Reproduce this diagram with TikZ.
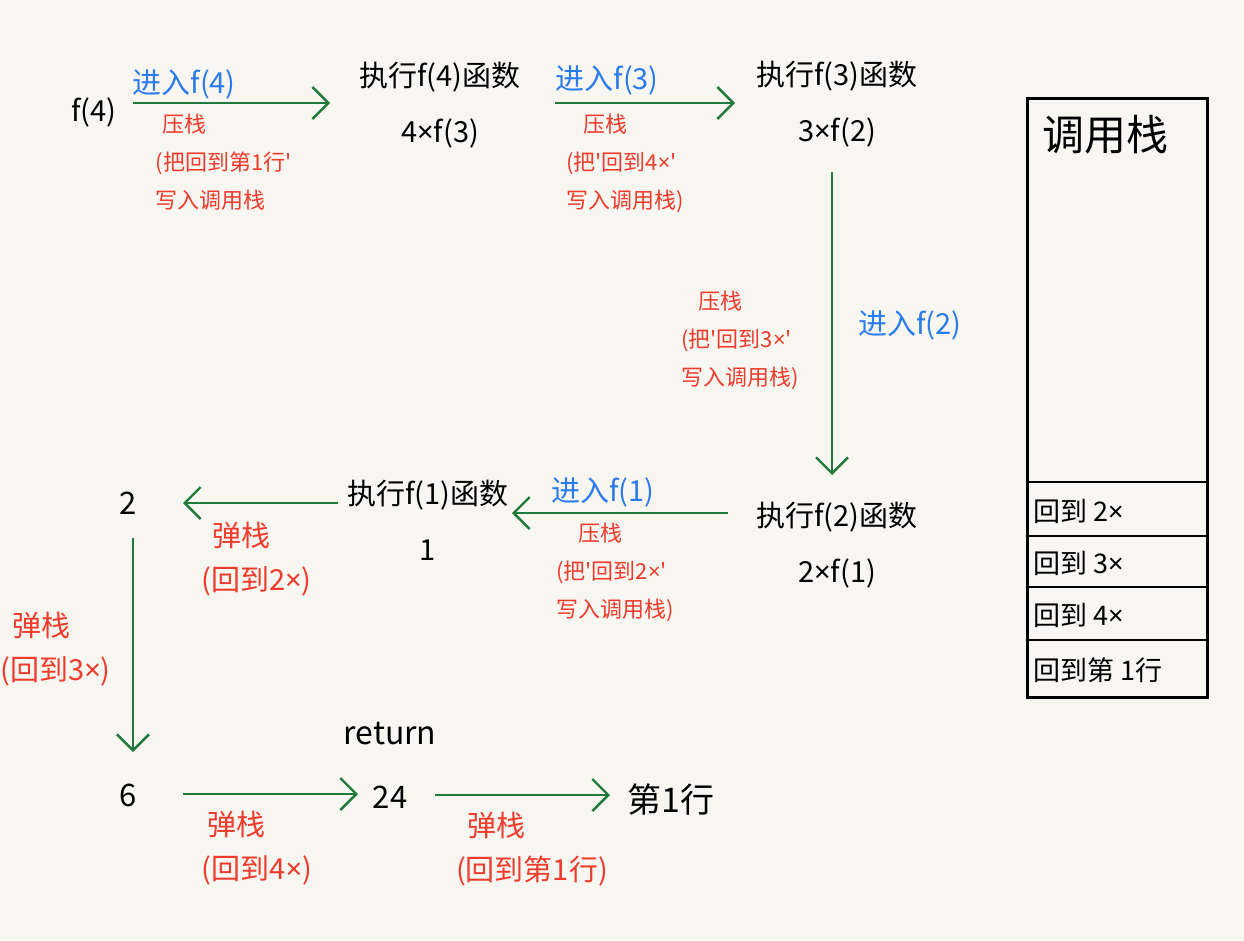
\documentclass[tikz,border=0pt]{standalone}
\usepackage{fontspec}
\newfontfamily\handcjk{Noto Sans CJK SC}
\newfontfamily\handlatin{Noto Sans}
\newcommand{\tms}{{\handlatin ×}}
\usepackage{xcolor}
\usetikzlibrary{positioning,arrows.meta}
\definecolor{paperbg}{HTML}{F8F6F1}
\definecolor{flowgreen}{HTML}{1F7A3C}
\definecolor{enterblue}{HTML}{2A7BEB}
\definecolor{notered}{HTML}{EE3B2B}
\tikzset{
  callnode/.style={inner sep=0pt, align=center, font=\handcjk\fontsize{29}{56}\selectfont},
  enternote/.style={inner sep=0pt, text=enterblue, font=\handcjk\fontsize{29}{30}\selectfont},
  pushnote/.style={inner sep=0pt, align=left, text=notered, font=\handcjk\fontsize{22}{38}\selectfont},
  popnote/.style={inner sep=0pt, align=left, text=notered, font=\handcjk\fontsize{29}{44}\selectfont},
  flowarrow/.style={-{Straight Barb[length=16pt,width=32pt]}, draw=flowgreen, line width=2.4pt},
  stacktitle/.style={inner sep=0pt, font=\handcjk\fontsize{42}{44}\selectfont},
  stackcell/.style={inner sep=0pt, anchor=west, font=\handcjk\fontsize{27}{28}\selectfont},
  stackline/.style={draw, line width=2.6pt},
}

\begin{document}
\begin{tikzpicture}[x=1pt, y=-1pt]
  \fill[paperbg] (0,0) rectangle (1244,940);
  \useasboundingbox (0,0) rectangle (1244,940);

  % Call nodes
  \node[callnode] (f4) at (94,112) {f(4)};
  \node[callnode] (run4) at (440,105) {执行f(4)函数\\4\tms f(3)};
  \node[callnode] (run3) at (837,104) {执行f(3)函数\\3\tms f(2)};
  \node[callnode] (run2) at (837,545) {执行f(2)函数\\2\tms f(1)};
  \node[callnode] (run1) at (428,520) {执行f(1)函数\\1};

  % Return values
  \node[callnode, font=\handcjk\fontsize{31}{32}\selectfont] (res2) at (128,503) {2};
  \node[callnode, font=\handcjk\fontsize{31}{32}\selectfont] (res6) at (128,795) {6};
  \node[callnode, font=\handcjk\fontsize{31}{32}\selectfont] (res24) at (390,797) {24};
  \node[callnode, font=\handcjk\fontsize{32}{32}\selectfont, above=40pt of res24] (ret) {return};
  \node[callnode, font=\handcjk\fontsize{34}{36}\selectfont] (line1) at (671,800) {第1行};

  % Arrow ends
  \coordinate (in4s) at (133,103);  \coordinate (in4e) at (330,103);
  \coordinate (in3s) at (555,103);  \coordinate (in3e) at (735,103);
  \coordinate (in2s) at (832,172);  \coordinate (in2e) at (832,475);
  \coordinate (in1s) at (728,513);  \coordinate (in1e) at (512,513);
  \coordinate (out1s) at (338,503); \coordinate (out1e) at (183,503);
  \coordinate (out2s) at (133,538); \coordinate (out2e) at (133,752);
  \coordinate (out3s) at (183,794); \coordinate (out3e) at (358,794);
  \coordinate (out4s) at (435,795); \coordinate (out4e) at (610,795);

  % Entering calls (push)
  \draw[flowarrow] (in4s) -- node[enternote, above=3pt, pos=0.26] {进入f(4)}
    node[pushnote, anchor=north west, yshift=-10pt, pos=0.11] {\hspace*{0.3em}压栈\\(把回到第1行'\\写入调用栈} (in4e);
  \draw[flowarrow] (in3s) -- node[enternote, above=7pt, pos=0.29] {进入f(3)}
    node[pushnote, anchor=north west, yshift=-10pt, pos=0.055] {\hspace*{0.8em}压栈\\(把'回到4\tms'\\写入调用栈)} (in3e);
  \draw[flowarrow] (in2s) -- node[enternote, right=25pt, pos=0.505] {进入f(2)}
    node[pushnote, left=32pt, pos=0.555] {\hspace*{0.8em}压栈\\(把'回到3\tms'\\写入调用栈)} (in2e);
  \draw[flowarrow] (in1s) -- node[enternote, above=5pt, pos=0.58] {进入f(1)}
    node[pushnote, anchor=north west, yshift=-9pt, pos=0.8] {\hspace*{1em}压栈\\(把'回到2\tms'\\写入调用栈)} (in1e);

  % Returning (pop)
  \draw[flowarrow] (out1s) -- node[popnote, anchor=north west, yshift=-18pt, pos=0.89] {\hspace*{0.4em}弹栈\\(回到2\tms)} (out1e);
  \draw[flowarrow] (out2s) -- node[popnote, left=21pt, pos=0.52] {\hspace*{0.4em}弹栈\\(回到3\tms)} (out2e);
  \draw[flowarrow] (out3s) -- node[popnote, anchor=north west, yshift=-16pt, pos=0.1] {\hspace*{0.2em}弹栈\\(回到4\tms)} (out3e);
  \draw[flowarrow] (out4s) -- node[popnote, anchor=north west, yshift=-16pt, pos=0.114] {\hspace*{0.4em}弹栈\\(回到第1行)} (out4e);

  % Call stack
  \node[draw, line width=3pt, minimum width=180pt, minimum height=599pt, inner sep=0pt] (stack) at (1117,397.5) {};
  \node[stacktitle] (stacklbl) at (1105,135) {调用栈};
  \draw[stackline] (stack.west |- 0,482) -- (stack.east |- 0,482);
  \draw[stackline] (stack.west |- 0,536) -- (stack.east |- 0,536);
  \draw[stackline] (stack.west |- 0,587) -- (stack.east |- 0,587);
  \draw[stackline] (stack.west |- 0,640) -- (stack.east |- 0,640);
  \node[stackcell] (cell2) at (1033,511) {回到 2\tms};
  \node[stackcell] (cell3) at (1033,563) {回到 3\tms};
  \node[stackcell] (cell4) at (1033,615) {回到 4\tms};
  \node[stackcell] (cellline) at (1033,670) {回到第 1行};
\end{tikzpicture}
\end{document}
